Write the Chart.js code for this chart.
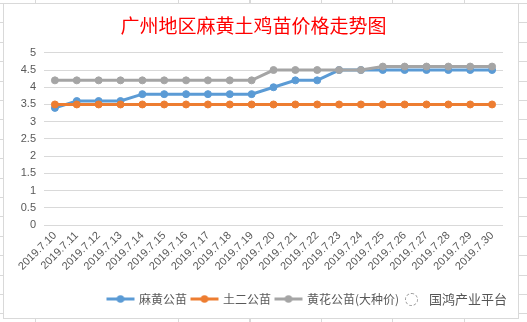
<!DOCTYPE html>
<html>
<head>
<meta charset="utf-8">
<script src="https://cdn.jsdelivr.net/npm/chart.js@4.4.1/dist/chart.umd.min.js"></script>
<style>
  html, body { margin: 0; padding: 0; }
  body {
    width: 527px; height: 322px; position: relative; overflow: hidden;
    background-color: #fff;
    background-image:
      repeating-linear-gradient(90deg, transparent 0 35px, #d9d9d9 35px 36px, transparent 36px 71.5px),
      repeating-linear-gradient(180deg, transparent 0 3px, #d9d9d9 3px 4px, transparent 4px 19.4px);
  }
  #frame {
    position: absolute; left: 3px; top: 3px;
    width: 514px; height: 314px;
    border: 1px solid #d9d9d9; background: #fff;
  }
  #frame canvas { display: block; }
  #mark {
    position: absolute; left: 405px; top: 290px;
    font-family: "Noto Sans CJK SC", sans-serif; font-size: 13px; color: #555;
    line-height: 18px; white-space: nowrap;
  }
  #mark .logo {
    display: inline-block; width: 11px; height: 11px; margin-right: 11px;
    border: 1px dashed #999; border-radius: 50%; vertical-align: -2px;
  }
</style>
</head>
<body>
<div id="frame"><canvas id="priceChart" width="514" height="314"></canvas></div>
<div id="mark"><span class="logo"></span>国鸿产业平台</div>
<script>
const dates = ["2019.7.10", "2019.7.11", "2019.7.12", "2019.7.13", "2019.7.14", "2019.7.15", "2019.7.16",
  "2019.7.17", "2019.7.18", "2019.7.19", "2019.7.20", "2019.7.21", "2019.7.22", "2019.7.23",
  "2019.7.24", "2019.7.25", "2019.7.26", "2019.7.27", "2019.7.28", "2019.7.29", "2019.7.30"];
const mahuang = [3.4, 3.6, 3.6, 3.6, 3.8, 3.8, 3.8, 3.8, 3.8, 3.8, 4.0, 4.2, 4.2, 4.5, 4.5, 4.5, 4.5, 4.5, 4.5, 4.5, 4.5];
const tuer = [3.5, 3.5, 3.5, 3.5, 3.5, 3.5, 3.5, 3.5, 3.5, 3.5, 3.5, 3.5, 3.5, 3.5, 3.5, 3.5, 3.5, 3.5, 3.5, 3.5, 3.5];
const huanghua = [4.2, 4.2, 4.2, 4.2, 4.2, 4.2, 4.2, 4.2, 4.2, 4.2, 4.5, 4.5, 4.5, 4.5, 4.5, 4.6, 4.6, 4.6, 4.6, 4.6, 4.6];
const seriesNames = ["麻黄公苗", "土二公苗", "黄花公苗(大种价)"];
const yMin = 0, yMax = 5, yStep = 0.5;

const blue = "#5B9BD5", orange = "#ED7D31", gray = "#A5A5A5";
const labelFont = "'Liberation Sans', Arial, sans-serif";

// line-with-marker swatch like Excel's legend
function legendMark(color) {
  const c = document.createElement("canvas");
  c.width = 30;
  c.height = 10;
  const g = c.getContext("2d");
  g.strokeStyle = color;
  g.lineWidth = 3;
  g.beginPath();
  g.moveTo(1, 5);
  g.lineTo(29, 5);
  g.stroke();
  g.fillStyle = color;
  g.beginPath();
  g.arc(15, 5, 3.8, 0, Math.PI * 2);
  g.fill();
  return c;
}

function series(label, data, color, order) {
  return {
    label: label,
    data: data,
    borderColor: color,
    backgroundColor: color,
    borderWidth: 3,
    pointRadius: 3.5,
    pointBorderWidth: 1,
    pointBackgroundColor: color,
    pointBorderColor: color,
    tension: 0,
    order: order,
  };
}

const ctx = document.getElementById("priceChart").getContext("2d");
new Chart(ctx, {
  type: "line",
  data: {
    labels: dates,
    datasets: [
      series(seriesNames[0], mahuang, blue, 3),
      series(seriesNames[1], tuer, orange, 2),
      series(seriesNames[2], huanghua, gray, 1),
    ],
  },
  options: {
    responsive: false,
    animation: false,
    devicePixelRatio: 1,
    layout: { padding: { left: 0, right: 15, top: 0, bottom: 3 } },
    plugins: {
      title: {
        display: true,
        text: "广州地区麻黄土鸡苗价格走势图",
        color: "#FF0000",
        font: { family: "'Noto Sans CJK SC', sans-serif", size: 19, weight: "normal" },
        padding: { top: 10, bottom: 16 },
      },
      legend: {
        position: "bottom",
        labels: {
          usePointStyle: true,
          pointStyleWidth: 25,
          boxHeight: 10,
          padding: 5,
          color: "#595959",
          font: { family: "'Noto Sans CJK SC', sans-serif", size: 12 },
          sort: (a, b) => a.datasetIndex - b.datasetIndex,
          generateLabels: (chart) => {
            const items = Chart.defaults.plugins.legend.labels.generateLabels(chart);
            items.forEach((it) => {
              const ds = chart.data.datasets[it.datasetIndex];
              it.pointStyle = legendMark(ds.borderColor);
            });
            return items;
          },
        },
      },
      tooltip: { enabled: false },
    },
    scales: {
      x: {
        offset: true,
        grid: { display: false, drawTicks: false },
        border: { display: false },
        ticks: {
          minRotation: 45,
          maxRotation: 45,
          autoSkip: false,
          padding: 4,
          color: "#595959",
          font: { family: labelFont, size: 11 },
        },
        afterFit: (scale) => { scale.height = 63; },
      },
      y: {
        min: yMin,
        max: yMax,
        ticks: {
          stepSize: yStep,
          padding: 8,
          color: "#595959",
          font: { family: labelFont, size: 11 },
          callback: (v) => String(Number(v.toFixed(1))),
        },
        grid: { color: "#D9D9D9", drawTicks: false },
        border: { display: false },
        afterFit: (scale) => { scale.width = 40; },
      },
    },
  },
});
</script>
</body>
</html>
